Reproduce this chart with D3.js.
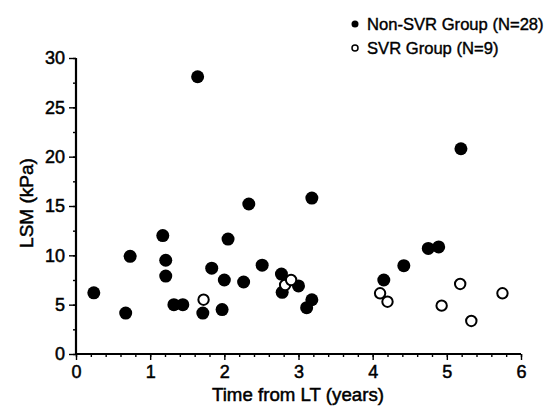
<!DOCTYPE html>
<html>
<head>
<meta charset="utf-8">
<script src="https://cdn.jsdelivr.net/npm/d3@7"></script>
<style>
  body { margin: 0; background: #fff; }
  svg text { font-family: "Liberation Sans", Arial, sans-serif; fill: #000; }
</style>
</head>
<body>
<div id="chart"></div>
<script>
// values
var nonSvrTime = [0.24, 0.67, 0.73, 1.17, 1.21, 1.21, 1.32, 1.44, 1.64, 1.71, 1.83, 1.97, 2.0, 2.05,
                  2.26, 2.33, 2.51, 2.77, 2.78, 3.0, 3.11, 3.18, 3.18, 4.15, 4.42, 4.75, 4.89, 5.19];
var nonSvrLsm  = [6.2, 4.15, 9.9, 12.0, 9.5, 7.9, 5.0, 5.0, 28.1, 4.15, 8.7, 4.5, 7.5, 11.65,
                  7.3, 15.2, 9.0, 8.1, 6.25, 6.9, 4.7, 5.5, 15.8, 7.5, 8.95, 10.7, 10.85, 20.8];
var svrTime = [1.72, 2.82, 2.9, 4.1, 4.2, 4.93, 5.18, 5.33, 5.75];
var svrLsm  = [5.5, 7.0, 7.5, 6.15, 5.3, 4.9, 7.1, 3.35, 6.15];
var xTicks = [0, 1, 2, 3, 4, 5, 6];
var yTicks = [0, 5, 10, 15, 20, 25, 30];
var legendLabels = ["Non-SVR Group (N=28)", "SVR Group (N=9)"];

var W = 549, H = 409;
var svg = d3.select("#chart").append("svg").attr("width", W).attr("height", H);

var x = d3.scaleLinear().domain([0, 6]).range([76, 521]);
var y = d3.scaleLinear().domain([0, 30]).range([354, 58]);

// minor ticks
var xAxisMinor = d3.axisBottom(x).tickValues(d3.range(0, 6.01, 0.2)).tickSize(3).tickFormat("");
var yAxisMinor = d3.axisLeft(y).tickValues(d3.range(0, 30.1, 2.5)).tickSize(3).tickFormat("");
svg.append("g").attr("transform", "translate(0,354)").call(xAxisMinor);
svg.append("g").attr("transform", "translate(76,0)").call(yAxisMinor);

var gx = svg.append("g").attr("transform", "translate(0,354)")
  .call(d3.axisBottom(x).tickValues(xTicks).tickFormat(d3.format("d")).tickSize(6).tickPadding(5));
var gy = svg.append("g").attr("transform", "translate(76,0)")
  .call(d3.axisLeft(y).tickValues(yTicks).tickFormat(d3.format("d")).tickSize(7).tickPadding(4));

svg.selectAll(".domain").attr("d", null);
svg.selectAll(".tick line").attr("stroke", "#000").attr("stroke-width", 1.4);
svg.selectAll(".tick text").attr("font-size", 18).attr("font-family", "Liberation Sans, Arial, sans-serif")
  .attr("fill", "#000").attr("stroke", "#000").attr("stroke-width", 0.5);

// axis lines drawn separately so they are solid
svg.append("line").attr("x1", x(0)).attr("x2", x(6)).attr("y1", y(0)).attr("y2", y(0))
  .attr("stroke", "#000").attr("stroke-width", 2.2);
svg.append("line").attr("x1", x(0)).attr("x2", x(0)).attr("y1", y(0)).attr("y2", y(30))
  .attr("stroke", "#000").attr("stroke-width", 2.2);

// axis titles
svg.append("text").attr("x", 298).attr("y", 401).attr("text-anchor", "middle")
  .attr("font-size", 18.7).attr("stroke", "#000").attr("stroke-width", 0.5)
  .text("Time from LT (years)");
svg.append("text").attr("transform", "translate(33,203) rotate(-90)").attr("text-anchor", "middle")
  .attr("font-size", 19).attr("stroke", "#000").attr("stroke-width", 0.5)
  .text("LSM (kPa)");

// points
var nonSvr = nonSvrTime.map(function(t, i){ return {t: t, v: nonSvrLsm[i]}; });
var svr = svrTime.map(function(t, i){ return {t: t, v: svrLsm[i]}; });

svg.append("g").selectAll("circle").data(nonSvr).enter().append("circle")
  .attr("cx", function(d){ return x(d.t); })
  .attr("cy", function(d){ return y(d.v); })
  .attr("r", 6.5).attr("fill", "#000");

svg.append("g").selectAll("circle").data(svr).enter().append("circle")
  .attr("cx", function(d){ return x(d.t); })
  .attr("cy", function(d){ return y(d.v); })
  .attr("r", 5.2).attr("fill", "#fff").attr("stroke", "#000").attr("stroke-width", 2);

// legend
var lg = svg.append("g");
lg.append("circle").attr("cx", 355).attr("cy", 24).attr("r", 3.5).attr("fill", "#000");
lg.append("circle").attr("cx", 355).attr("cy", 48).attr("r", 3).attr("fill", "#fff")
  .attr("stroke", "#000").attr("stroke-width", 1.5);
lg.selectAll("text").data(legendLabels).enter().append("text")
  .attr("x", 367).attr("y", function(d, i){ return 30 + i * 24; })
  .attr("font-size", 16.6).attr("stroke", "#000").attr("stroke-width", 0.4)
  .text(function(d){ return d; });
</script>
</body>
</html>
